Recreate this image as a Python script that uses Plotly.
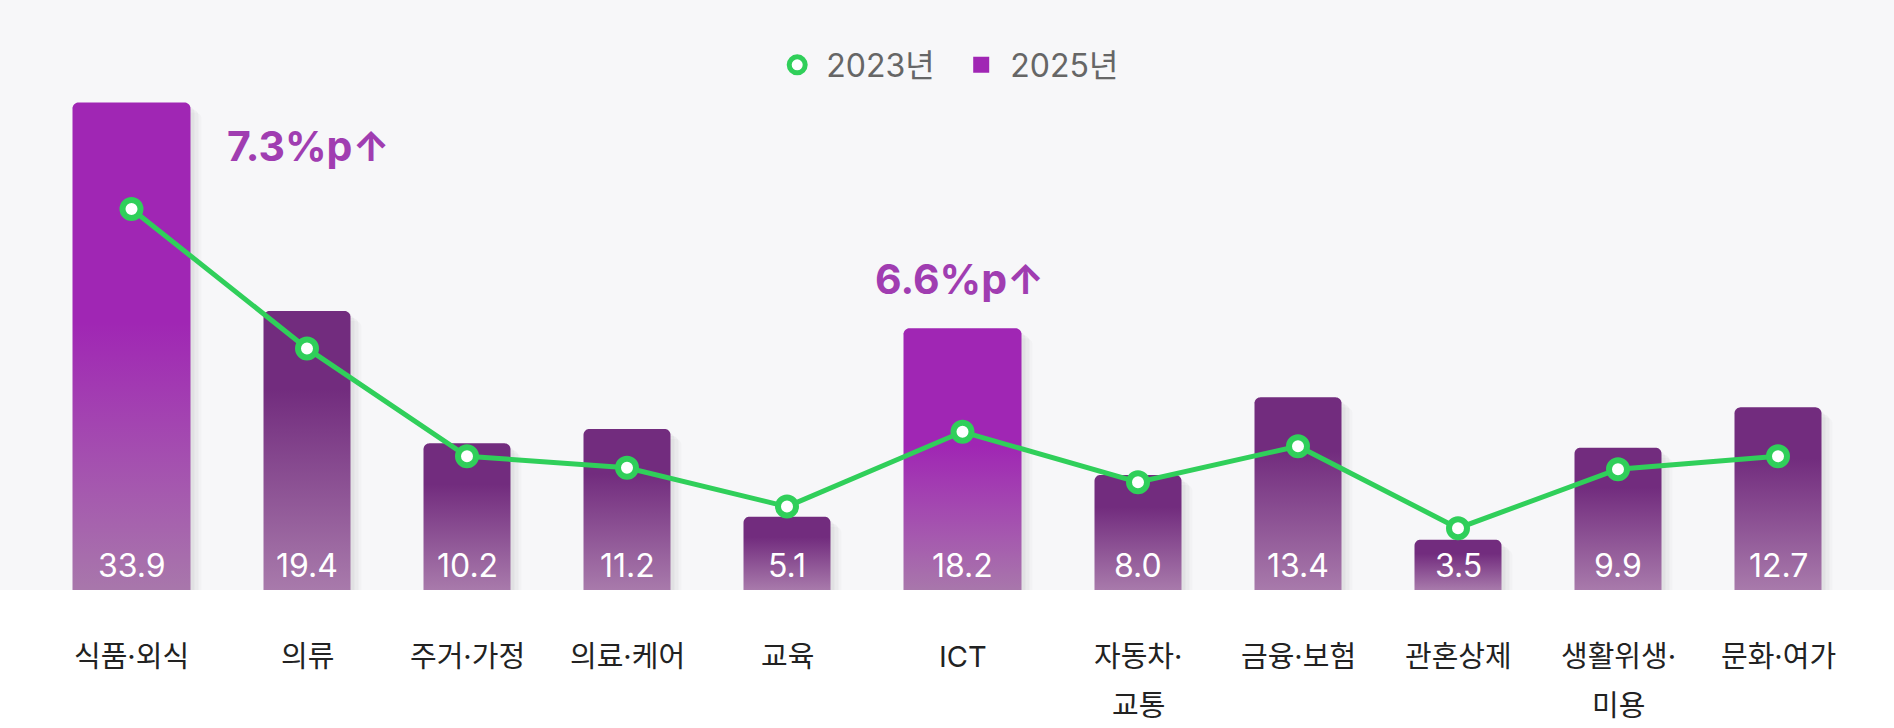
import math
import plotly.graph_objects as go

# ---------------- data ----------------
categories = ["식품·외식", "의류", "주거·가정", "의료·케어", "교육", "ICT",
              "자동차·\n교통", "금융·보험", "관혼상제", "생활위생·\n미용", "문화·여가"]
values_2025 = [33.9, 19.4, 10.2, 11.2, 5.1, 18.2, 8.0, 13.4, 3.5, 9.9, 12.7]
values_2023 = [26.5, 16.8, 9.3, 8.5, 5.8, 11.0, 7.5, 10.0, 4.3, 8.4, 9.3]
highlighted = ["식품·외식", "ICT"]
callout_text = {"식품·외식": "7.3%p↑", "ICT": "6.6%p↑"}
series_names = ["2023년", "2025년"]

# ---------------- style ----------------
W, H = 1894, 728
PLOT_H = 590
PPU = 14.38                    # pixels per value unit
Y_MAX = PLOT_H / PPU
BAR_W_HI, BAR_W, GAP, RADIUS = 118, 87, 73, 6
GREEN = "#30cf5a"
HI_TOP, HI_BOT = "#a026b4", "#a877ab"
NO_TOP, NO_BOT = "#722c7e", "#a87aab"
FONT = "Inter, 'Noto Sans CJK KR', sans-serif"
callout_style = {"식품·외식": dict(xanchor="left", dx=34, dy=-3.0),
                 "ICT": dict(xanchor="center", dx=-3, dy=3.4)}

widths = [BAR_W_HI if c in highlighted else BAR_W for c in categories]
total = sum(widths) + GAP * len(widths)
pos = (W - total) / 2
centers = []
for w in widths:
    centers.append(pos + (GAP + w) / 2)
    pos += GAP + w


def bar_path(cx, w, top, dx=0.0, dy_px=0.0):
    x0, x1 = cx - w / 2 + dx, cx + w / 2 + dx
    t = top - dy_px / PPU
    rx, ry = RADIUS, RADIUS / PPU
    xs, ys = [x0], [0]
    for k in range(0, 11):
        a = math.pi - k * (math.pi / 2) / 10
        xs.append(x0 + rx + rx * math.cos(a)); ys.append(t - ry + ry * math.sin(a))
    for k in range(0, 11):
        a = math.pi / 2 - k * (math.pi / 2) / 10
        xs.append(x1 - rx + rx * math.cos(a)); ys.append(t - ry + ry * math.sin(a))
    xs += [x1, x0]; ys += [0, 0]
    return xs, ys


fig = go.Figure()

# shadows
for c, cx, w, v in zip(categories, centers, widths, values_2025):
    for dx, dy, alpha in [(4, 4, 0.035), (8, 7, 0.03), (11, 10, 0.02)]:
        xs, ys = bar_path(cx, w, v, dx, dy)
        fig.add_trace(go.Scatter(x=xs, y=ys, fill="toself", mode="none",
                                 fillcolor=f"rgba(0,0,0,{alpha})", hoverinfo="skip",
                                 showlegend=False))

# bars with gradient
for c, cx, w, v in zip(categories, centers, widths, values_2025):
    hi = c in highlighted
    top, bot = (HI_TOP, HI_BOT) if hi else (NO_TOP, NO_BOT)
    mid = 0.55 if hi else 0.72
    xs, ys = bar_path(cx, w, v)
    fig.add_trace(go.Scatter(
        x=xs, y=ys, fill="toself", mode="none", hoverinfo="skip", showlegend=False,
        fillgradient=dict(type="vertical", colorscale=[[0, bot], [mid, top], [1, top]],
                          start=0, stop=v)))

# 2023 line
fig.add_trace(go.Scatter(
    x=centers, y=values_2023, mode="lines+markers", showlegend=False,
    line=dict(color=GREEN, width=5),
    marker=dict(size=18, color="white", line=dict(color=GREEN, width=6))))

# legend entries
fig.add_trace(go.Scatter(x=[None], y=[None], mode="markers", name=" " + series_names[0],
                         marker=dict(size=18, color="white", symbol="circle",
                                     line=dict(color=GREEN, width=6))))
fig.add_trace(go.Scatter(x=[None], y=[None], mode="markers", name=" " + series_names[1],
                         marker=dict(size=24, color=HI_TOP, symbol="square")))

ann = []
# value labels
for cx, v in zip(centers, values_2025):
    ann.append(dict(x=cx, y=0, xref="x", yref="y", text=f"{v:.1f}", showarrow=False,
                    yanchor="middle", yshift=25,
                    font=dict(family=FONT, size=32, color="white")))
# category labels
for cx, c in zip(centers, categories):
    for i, line in enumerate(c.split("\n")):
        ann.append(dict(x=cx, y=0, xref="x", yref="y", text=line, showarrow=False,
                        yanchor="middle", yshift=-(66 + i * 49),
                        font=dict(family=FONT, size=29, color="#222222")))
# callouts
for c, txt in callout_text.items():
    i = categories.index(c)
    st = callout_style[c]
    xa = centers[i] + (widths[i] / 2 if st["xanchor"] == "left" else 0)
    ann.append(dict(x=xa, y=values_2025[i] + st["dy"], xref="x", yref="y",
                    text=f"<b>{txt}</b>", showarrow=False, xanchor=st["xanchor"],
                    xshift=st["dx"], yanchor="middle",
                    font=dict(family=FONT, size=41, color="#a03db1")))

fig.update_layout(
    width=W, height=H,
    margin=dict(l=0, r=0, t=0, b=H - PLOT_H),
    paper_bgcolor="white", plot_bgcolor="#f7f7f9",
    xaxis=dict(range=[0, W], visible=False, fixedrange=True),
    yaxis=dict(range=[0, Y_MAX], visible=False, fixedrange=True),
    showlegend=True,
    legend=dict(orientation="h", x=0.5075, xanchor="center", y=1 - 65 / PLOT_H,
                yanchor="middle", bgcolor="rgba(0,0,0,0)", entrywidth=139,
                font=dict(family=FONT, size=32, color="#666666"),
                itemclick=False, itemdoubleclick=False),
    annotations=ann,
)

fig.write_html("out.html")
